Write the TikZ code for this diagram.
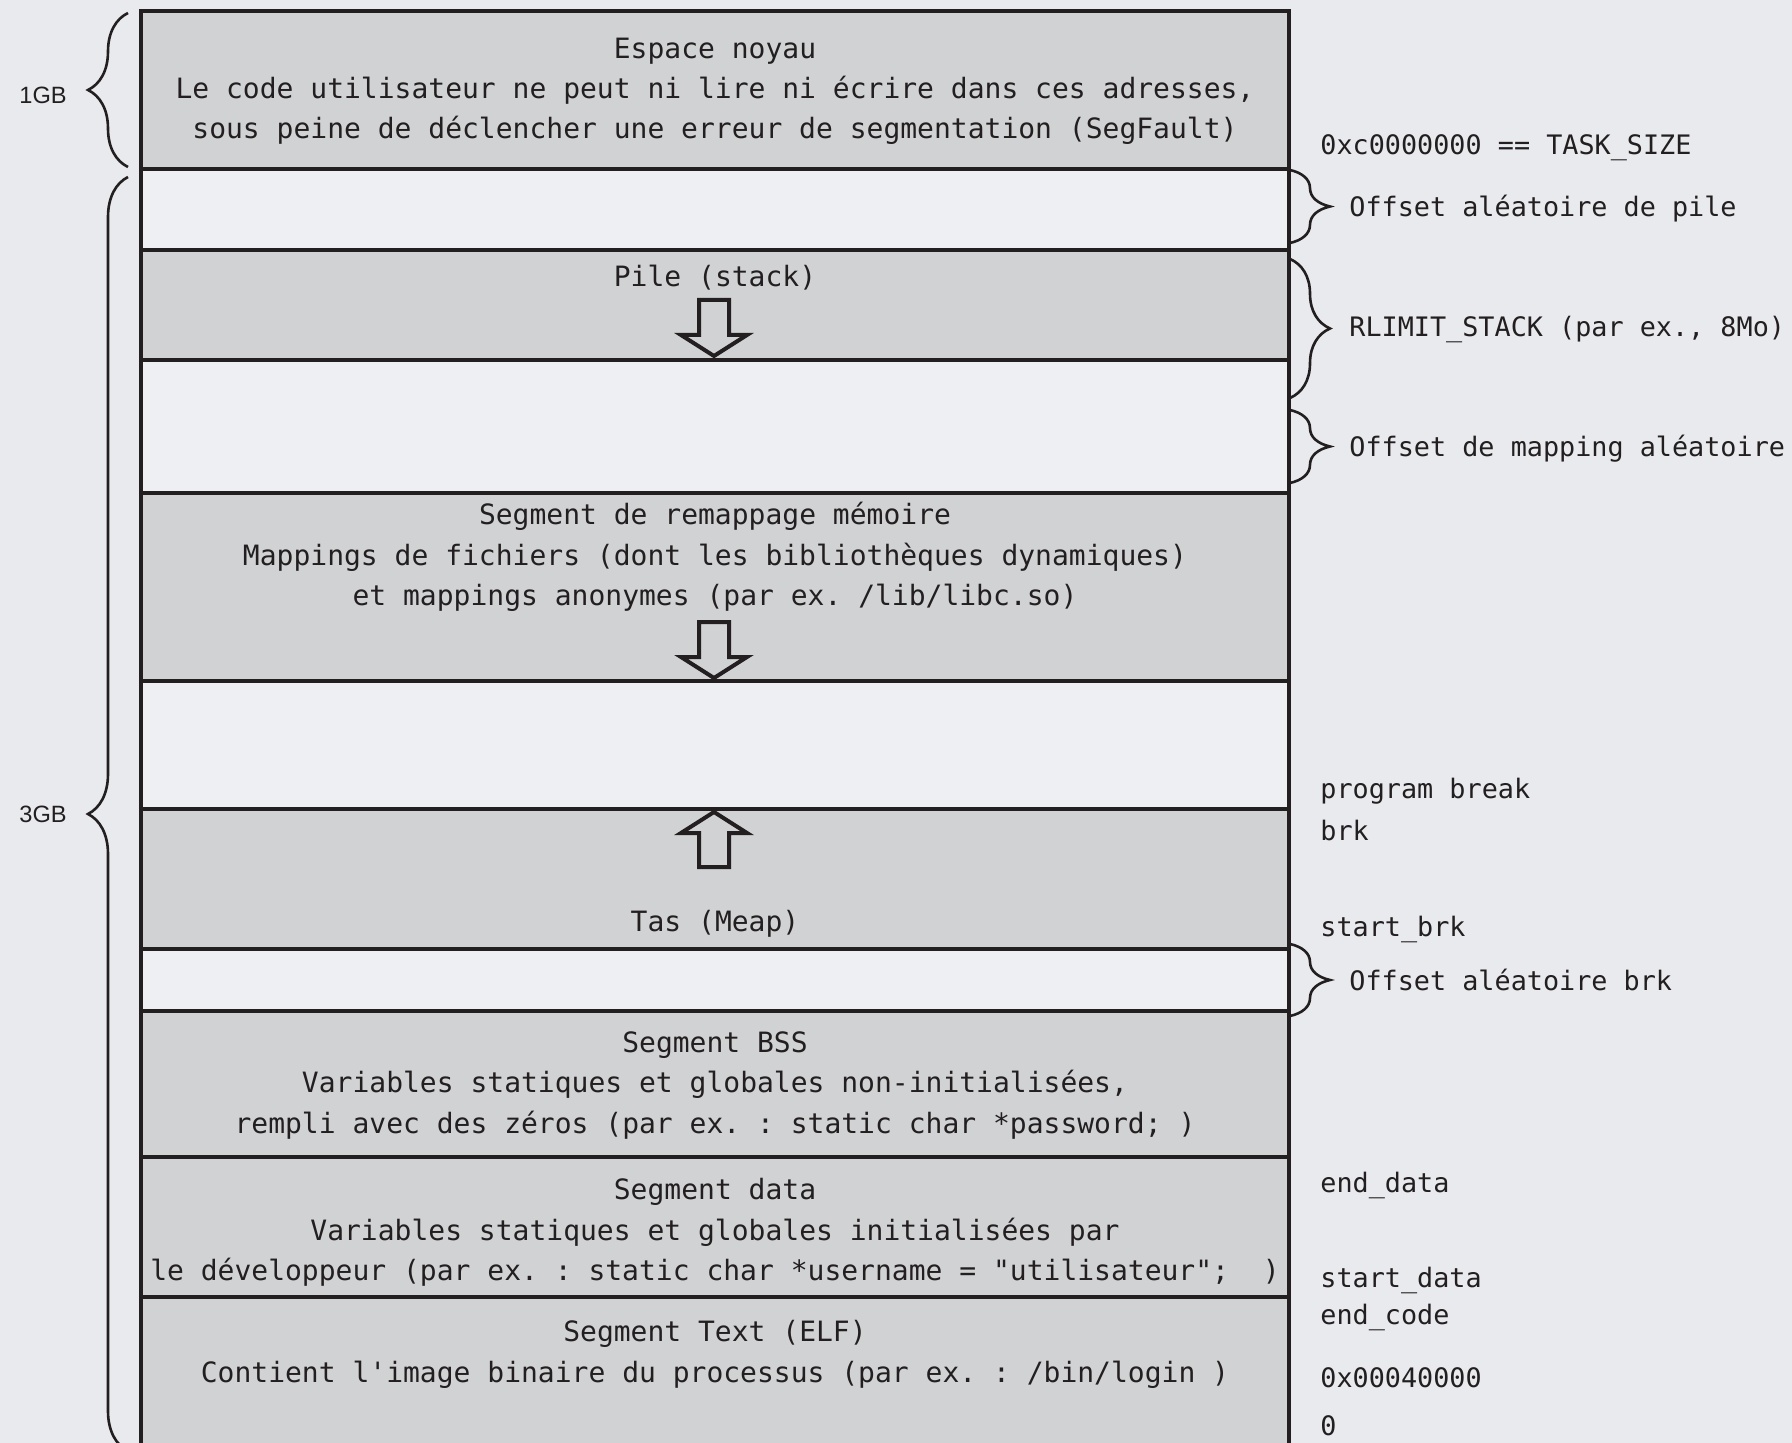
\documentclass[tikz,border=0pt]{standalone}
\usepackage{fontspec}
\setmonofont{DejaVu Sans Mono}
\newfontfamily\labelsans{Liberation Sans}
\usetikzlibrary{decorations.pathreplacing}

\definecolor{bgcol}{HTML}{E9EAED}
\definecolor{segdark}{HTML}{D1D2D4}
\definecolor{seglight}{HTML}{EEEFF2}
\definecolor{ink}{HTML}{231F20}

\begin{document}
\begin{tikzpicture}[x=0.5pt,y=-0.5pt,
  segtext/.style={font=\ttfamily\fontsize{14}{16}\selectfont, text=ink, anchor=base, inner sep=0pt},
  sidetext/.style={font=\ttfamily\fontsize{13.4}{16}\selectfont, text=ink, anchor=base west, inner sep=0pt},
  sizetext/.style={font=\labelsans\fontsize{11.8}{14}\selectfont, text=ink, anchor=base west, inner sep=0pt},
  rule/.style={draw=ink, line width=2.3pt, line join=miter},
  gapfill/.style={fill=seglight},
  bandfill/.style={fill=segdark},
  sizebrace/.style={draw=ink, line width=1.3pt, decorate,
    decoration={brace, amplitude=20pt, aspect=0.5}},
  growarrow/.style={draw=ink, line width=2pt, fill=segdark, line join=miter},
  downgrow/.pic={\draw[growarrow] (-15,0) -- (15,0) -- (15,35) -- (33,35)
      -- (0,56) -- (-33,35) -- (-15,35) -- cycle;},
  upgrow/.pic={\draw[growarrow] (-15,0) -- (15,0) -- (15,-34) -- (33,-34)
      -- (0,-55) -- (-33,-34) -- (-15,-34) -- cycle;},
]
\useasboundingbox (0,0) rectangle (1792,1443);
\fill[bgcol] (0,0) rectangle (1792,1443);

\begin{scope}
\clip (0,0) rectangle (1792,1443);

% address space bands, from the top (kernel) down to the text segment
\fill[bandfill] (141,11)   rectangle (1289,169);
\fill[gapfill]  (141,169)  rectangle (1289,250);
\fill[bandfill] (141,250)  rectangle (1289,360);
\fill[gapfill]  (141,360)  rectangle (1289,493);
\fill[bandfill] (141,493)  rectangle (1289,681);
\fill[gapfill]  (141,681)  rectangle (1289,809);
\fill[bandfill] (141,809)  rectangle (1289,949);
\fill[gapfill]  (141,949)  rectangle (1289,1011);
\fill[bandfill] (141,1011) rectangle (1289,1480);

% growth arrows
\pic at (714,300) {downgrow};
\pic at (714,622) {downgrow};
\pic at (714,867) {upgrow};

% outline and band separators
\draw[rule] (141,1480) -- (141,11) -- (1289,11) -- (1289,1480);
\foreach \yy in {169,250,360,493,681,809,949,1011,1157,1297}
  \draw[rule] (141,\yy) -- (1289,\yy);

% size braces on the left
\draw[sizebrace] (128,167) -- (128,13);
\draw[sizebrace] (128,1451) -- (128,177);
\end{scope}

\node[sizetext] (gb1) at (19,104) {1GB};
\node[sizetext] (gb3) at (19,822) {3GB};

% labels inside the bands
\node[segtext] (kern1) at (715,59)  {Espace noyau};
\node[segtext] (kern2) at (715,99)  {Le code utilisateur ne peut ni lire ni écrire dans ces adresses,};
\node[segtext] (kern3) at (715,139) {sous peine de déclencher une erreur de segmentation (SegFault)};
\node[segtext] (stack) at (715,287) {Pile (stack)};
\node[segtext] (mmap1) at (715,524) {Segment de remappage mémoire};
\node[segtext] (mmap2) at (715,565) {Mappings de fichiers (dont les bibliothèques dynamiques)};
\node[segtext] (mmap3) at (715,605) {et mappings anonymes (par ex. /lib/libc.so)};
\node[segtext] (heap)  at (715,931) {Tas (Meap)};
\node[segtext] (bss1)  at (715,1052) {Segment BSS};
\node[segtext] (bss2)  at (715,1092) {Variables statiques et globales non-initialisées,};
\node[segtext] (bss3)  at (715,1133) {rempli avec des zéros (par ex. : static char *password; )};
\node[segtext] (data1) at (715,1199) {Segment data};
\node[segtext] (data2) at (715,1240) {Variables statiques et globales initialisées par};
\node[segtext] (data3) at (715,1280) {le développeur (par ex. : static char *username = "utilisateur";\ \ )};
\node[segtext] (text1) at (715,1341) {Segment Text (ELF)};
\node[segtext] (text2) at (715,1382) {Contient l'image binaire du processus (par ex. : /bin/login )};

% braces and address labels on the right
\draw[sizebrace] (1290,170) -- (1290,243);
\draw[sizebrace] (1290,259) -- (1290,398);
\draw[sizebrace] (1290,410) -- (1290,483);
\draw[sizebrace] (1290,944) -- (1290,1016);

\node[sidetext] (task)   at (1320,155)  {0xc0000000 == TASK\_SIZE};
\node[sidetext] (offpile) at (1349,217) {Offset aléatoire de pile};
\node[sidetext] (rlim)   at (1349,337)  {RLIMIT\_STACK (par ex., 8Mo)};
\node[sidetext] (offmap) at (1349,457)  {Offset de mapping aléatoire};
\node[sidetext] (pbrk)   at (1320,798)  {program break};
\node[sidetext] (brk)    at (1320,840)  {brk};
\node[sidetext] (sbrk)   at (1320,936)  {start\_brk};
\node[sidetext] (offbrk) at (1349,990)  {Offset aléatoire brk};
\node[sidetext] (edata)  at (1320,1192) {end\_data};
\node[sidetext] (sdata)  at (1320,1287) {start\_data};
\node[sidetext] (ecode)  at (1320,1324) {end\_code};
\node[sidetext] (base)   at (1320,1387) {0x00040000};
\node[sidetext] (zero)   at (1320,1435) {0};
\end{tikzpicture}
\end{document}
